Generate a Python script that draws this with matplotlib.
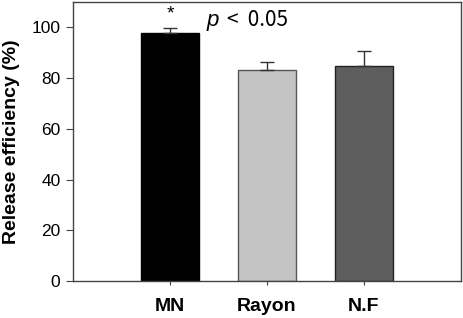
import matplotlib
matplotlib.use("Agg")
import matplotlib.pyplot as plt

categories = ["MN", "Rayon", "N.F"]
values = [97.9, 83.1, 84.9]
errors = [1.8, 3.4, 5.6]
colors = ["#000000", "#c4c4c4", "#5e5e5e"]
edges = ["#000000", "#555555", "#222222"]

plt.rcParams['font.family'] = ['Liberation Sans', 'DejaVu Sans']

fig = plt.figure(figsize=(4.64, 3.18), dpi=100)
ax = fig.add_axes([73/464, 1 - 281/318, 388/464, 279/318])

pos = [1, 2, 3]
ax.bar(pos, values, width=0.6, color=colors, edgecolor=edges, linewidth=1.0, zorder=2)
ax.errorbar(pos, values, yerr=[[0]*3, errors], fmt='none', ecolor='#333333',
            elinewidth=1.0, capsize=5, capthick=1.0, zorder=3)

ax.set_xlim(0, 4)
ax.set_ylim(0, 110)
ax.set_yticks([0, 20, 40, 60, 80, 100])
ax.set_xticks(pos)
ax.set_xticklabels(categories, fontsize=14, fontweight='bold')
ax.tick_params(axis='y', labelsize=12.5, direction='out', length=5, pad=4, color='#444444')
ax.tick_params(axis='x', direction='out', length=3, pad=9, color='#444444')
ax.set_ylabel("Release efficiency (%)", fontsize=14, fontweight='bold', labelpad=8)
for s in ax.spines.values():
    s.set_color('#444444')
    s.set_linewidth(1.0)

ax.text(1, 101.8, "*", ha='center', va='bottom', fontsize=14)
ax.text(1.38, 102.8, "p", ha='left', va='center', fontsize=16, fontstyle='italic')
ax.text(1.585, 102.8, "<  0.05", ha='left', va='center', fontsize=15,
        family=['Noto Sans CJK KR', 'DejaVu Sans'])

fig.savefig("out.png", dpi=100)
